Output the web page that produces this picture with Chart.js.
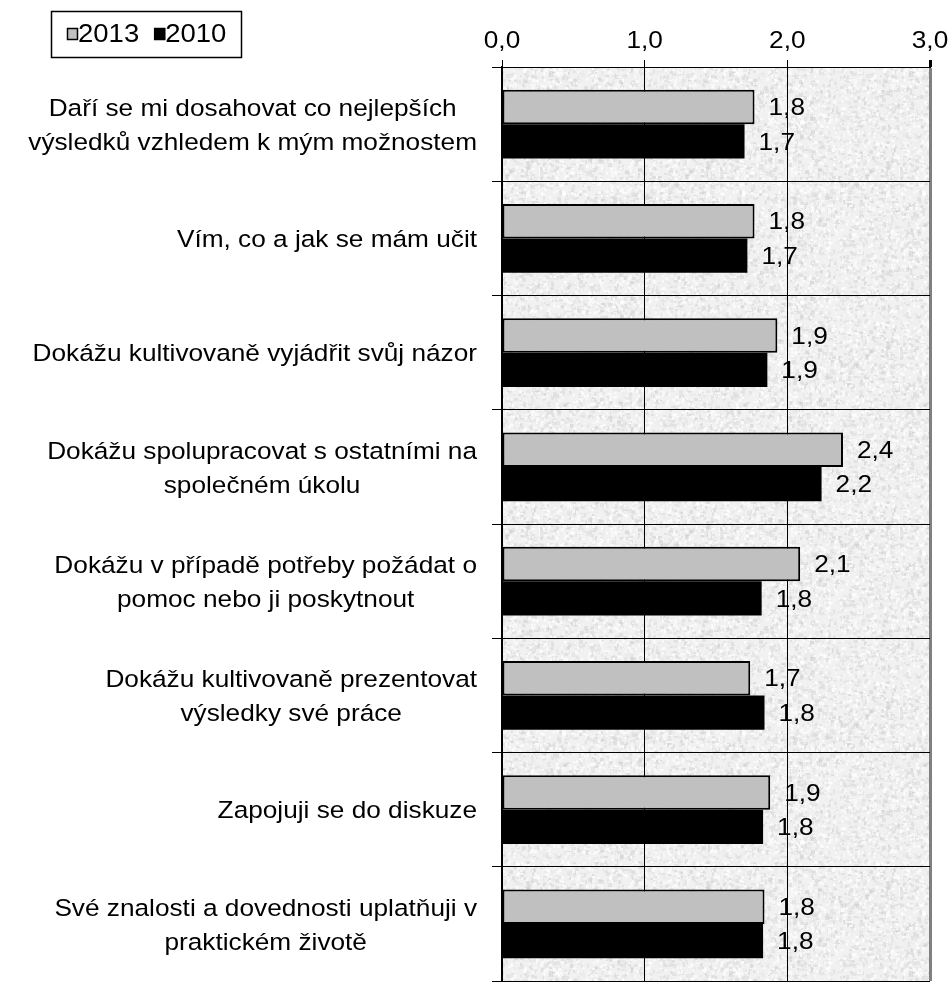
<!DOCTYPE html>
<html lang="cs">
<head>
    <meta charset="UTF-8">
    <title>Kompetence žáků 2013 / 2010</title>
    <script src="https://cdn.jsdelivr.net/npm/chart.js@4/dist/chart.umd.min.js"></script>
    <style>
        body { margin: 0; background: #fff; }
        #wrap { position: relative; width: 952px; height: 983px; }
    </style>
</head>
<body>
    <div id="wrap"><canvas id="chart"></canvas></div>

    <script>
        const categories = [
            ["Daří se mi dosahovat co nejlepších", "výsledků vzhledem k mým možnostem"],
            ["Vím, co a jak se mám učit"],
            ["Dokážu kultivovaně vyjádřit svůj názor"],
            ["Dokážu spolupracovat s ostatními na", "společném úkolu"],
            ["Dokážu v případě potřeby požádat o", "pomoc nebo ji poskytnout"],
            ["Dokážu kultivovaně prezentovat", "výsledky své práce"],
            ["Zapojuji se do diskuze"],
            ["Své znalosti a dovednosti uplatňuji v", "praktickém životě"]
        ];
        const seriesNames = ["2013", "2010"];
        const values2013 = [1.77, 1.77, 1.93, 2.39, 2.09, 1.74, 1.88, 1.84];
        const values2010 = [1.70, 1.72, 1.86, 2.24, 1.82, 1.84, 1.83, 1.83];
        const xTicks = [0, 1, 2, 3];

        const FONT = '"Liberation Sans", Arial, sans-serif';
        const FONT_SIZE = 24.5;
        const SX = 1.07; // source text is slightly wider than Arial
        const fmt = v => v.toFixed(1).replace('.', ',');

        function drawText(ctx, text, x, y, align, sx) {
            ctx.save();
            ctx.translate(x, y);
            ctx.scale(sx || SX, 1);
            ctx.textAlign = align;
            ctx.fillText(text, 0, 0);
            ctx.restore();
        }

        // granite-like texture for the plot area (deterministic)
        function makeTexture() {
            const c = document.createElement('canvas');
            c.width = 180; c.height = 180;
            const g = c.getContext('2d');
            g.fillStyle = '#f1f1f1';
            g.fillRect(0, 0, 180, 180);
            let s = 4242;
            const rnd = () => { s = (s * 1103515245 + 12345) % 2147483648; return s / 2147483648; };
            for (let i = 0; i < 2200; i++) {
                const v = 200 + Math.floor(rnd() * 40);
                g.fillStyle = 'rgba(' + v + ',' + v + ',' + v + ',0.4)';
                g.fillRect(Math.floor(rnd() * 180), Math.floor(rnd() * 180), 2 + Math.floor(rnd() * 3), 2 + Math.floor(rnd() * 3));
            }
            for (let i = 0; i < 1200; i++) {
                g.fillStyle = 'rgba(255,255,255,0.55)';
                g.fillRect(Math.floor(rnd() * 180), Math.floor(rnd() * 180), 2 + Math.floor(rnd() * 2), 2 + Math.floor(rnd() * 2));
            }
            return c;
        }

        const backgroundPlugin = {
            id: 'plotBackground',
            beforeDraw(chart) {
                const { ctx, chartArea: a } = chart;
                ctx.save();
                ctx.fillStyle = '#fff';
                ctx.fillRect(0, 0, chart.width, chart.height);
                ctx.fillStyle = ctx.createPattern(makeTexture(), 'repeat');
                ctx.fillRect(a.left, a.top, a.right - a.left, a.bottom - a.top);
                ctx.restore();
            }
        };

        // axis texts: y labels (block right-aligned, lines centred) and x tick labels
        const axisTextPlugin = {
            id: 'axisText',
            afterDraw(chart) {
                const { ctx } = chart;
                const y = chart.scales.y;
                const x = chart.scales.x;
                const lineH = 34;
                const rightEdge = y.right - 25;
                ctx.save();
                ctx.font = FONT_SIZE + 'px ' + FONT;
                ctx.fillStyle = '#000';
                ctx.textBaseline = 'middle';
                categories.forEach((lines, i) => {
                    const cy = y.getPixelForValue(i) + 2;
                    const w = Math.max(...lines.map(l => ctx.measureText(l).width)) * SX;
                    const cx = rightEdge - w / 2;
                    lines.forEach((l, k) => {
                        drawText(ctx, l, cx, cy + (k - (lines.length - 1) / 2) * lineH, 'center');
                    });
                });
                xTicks.forEach(v => {
                    drawText(ctx, fmt(v), x.getPixelForValue(v), 41, 'center');
                });
                ctx.restore();
            }
        };

        const valueLabelPlugin = {
            id: 'valueLabels',
            afterDatasetsDraw(chart) {
                const { ctx } = chart;
                ctx.save();
                ctx.font = FONT_SIZE + 'px ' + FONT;
                ctx.fillStyle = '#000';
                ctx.textBaseline = 'middle';
                chart.data.datasets.forEach((ds, di) => {
                    chart.getDatasetMeta(di).data.forEach((bar, i) => {
                        drawText(ctx, fmt(ds.data[i]), bar.x + 14, bar.y + 1.5, 'left');
                    });
                });
                ctx.restore();
            }
        };

        const legendPlugin = {
            id: 'boxLegend',
            afterDraw(chart) {
                const { ctx } = chart;
                const sx = 1.1;
                ctx.save();
                ctx.strokeStyle = '#000';
                ctx.lineWidth = 1.5;
                ctx.strokeRect(51.5, 11.5, 190, 46);
                ctx.font = '25px ' + FONT;
                ctx.textBaseline = 'middle';
                let x = 67;
                chart.data.datasets.forEach(ds => {
                    ctx.fillStyle = ds.backgroundColor;
                    ctx.fillRect(x, 28, 11, 12);
                    ctx.strokeStyle = '#000';
                    ctx.lineWidth = 1.5;
                    ctx.strokeRect(x + 0.5, 28.5, 10, 11);
                    ctx.fillStyle = '#000';
                    drawText(ctx, ds.label, x + 11, 35, 'left', sx);
                    x += 11 + ctx.measureText(ds.label).width * sx + 15;
                });
                ctx.restore();
            }
        };

        new Chart('chart', {
            type: 'bar',
            data: {
                labels: categories,
                datasets: [
                    {
                        label: seriesNames[0],
                        data: values2013,
                        backgroundColor: '#c0c0c0',
                        borderColor: '#000',
                        borderWidth: 2,
                        borderSkipped: false
                    },
                    {
                        label: seriesNames[1],
                        data: values2010,
                        backgroundColor: '#000',
                        borderWidth: 0
                    }
                ]
            },
            options: {
                indexAxis: 'y',
                responsive: true,
                maintainAspectRatio: false,
                animation: false,
                layout: { padding: { top: 0, right: 22, bottom: 2, left: 0 } },
                datasets: { bar: { categoryPercentage: 0.6, barPercentage: 1.0 } },
                plugins: {
                    legend: { display: false },
                    tooltip: { enabled: false }
                },
                scales: {
                    x: {
                        position: 'top',
                        min: xTicks[0],
                        max: xTicks[xTicks.length - 1],
                        afterBuildTicks: s => { s.ticks = xTicks.map(v => ({ value: v })); },
                        afterFit: s => { s.height = 67; },
                        ticks: { display: false },
                        grid: {
                            color: c => (c.tick && c.tick.value === 3 ? '#808080' : '#000'),
                            lineWidth: c => (c.tick && c.tick.value === 3 ? 3 : 1),
                            tickColor: '#000',
                            tickLength: 7
                        },
                        border: { display: true, color: '#000', width: 1 }
                    },
                    y: {
                        afterFit: s => { s.width = 502; },
                        ticks: { display: false },
                        grid: {
                            offset: true,
                            color: '#000',
                            lineWidth: 1,
                            tickLength: 10
                        },
                        border: { display: true, color: '#000', width: 2 }
                    }
                }
            },
            plugins: [backgroundPlugin, axisTextPlugin, valueLabelPlugin, legendPlugin]
        });
    </script>
</body>
</html>
